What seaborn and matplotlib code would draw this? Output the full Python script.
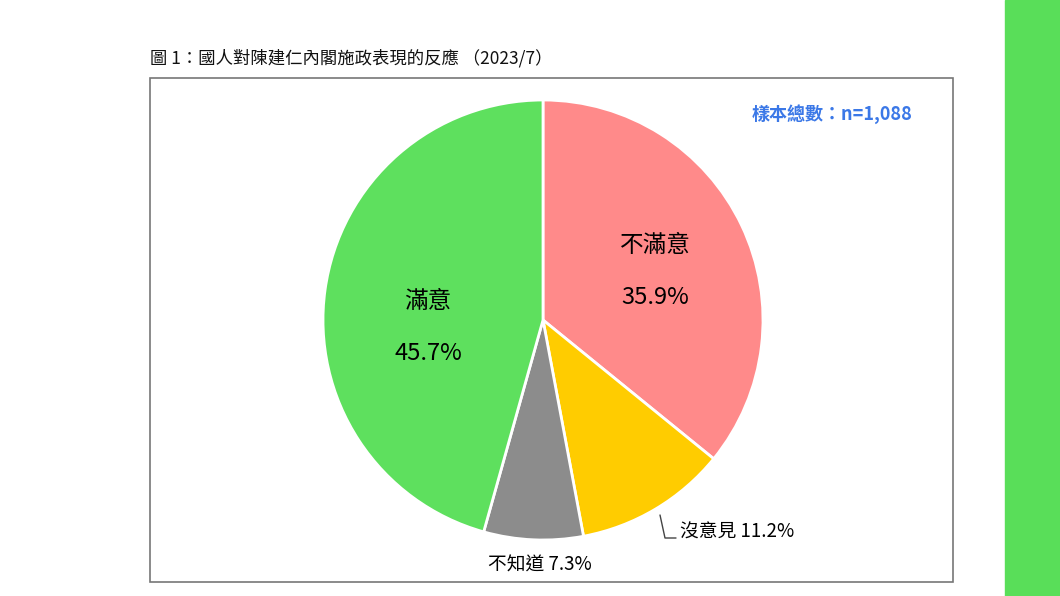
import matplotlib
matplotlib.use("Agg")
import matplotlib.pyplot as plt
import seaborn as sns
from matplotlib.patches import Rectangle

sns.set_theme(style="white")
plt.rcParams['font.family'] = ['Noto Sans CJK TC', 'DejaVu Sans']

# data
labels = ['不滿意', '沒意見', '不知道', '滿意']
values = [35.9, 11.2, 7.3, 45.7]
colors = ['#FF8A8A', '#FFCC00', '#8C8C8C', '#5EE05E']
title = '圖 1：國人對陳建仁內閣施政表現的反應 （2023/7）'
sample = '樣本總數：n=1,088'

W, H = 1060, 596
fig = plt.figure(figsize=(W / 100, H / 100), dpi=100)

def fx(x):
    return x / W

def fy(y):
    return 1 - y / H

# frame and side bar
fig.patches.append(Rectangle((fx(150), fy(582)), fx(803), 504 / H, transform=fig.transFigure,
                             fill=False, edgecolor='#777777', linewidth=1.2))
fig.patches.append(Rectangle((fx(1005), 0), fx(55), 1, transform=fig.transFigure,
                             color='#59DE59'))
fig.text(fx(150), fy(58), title, fontsize=12.5, va='center', ha='left', color='#111111')
fig.text(fx(913), fy(114), sample, fontsize=13, va='center', ha='right', color='#3B78E7',
         fontweight='bold')

# pie: center (543,320), radius 220 px
r = 220
ax = fig.add_axes([fx(543 - r), fy(320 + r), 2 * r / W, 2 * r / H])
ax.pie(values, colors=colors, startangle=90, counterclock=False,
       wedgeprops=dict(edgecolor='white', linewidth=2))
ax.set_xlim(-1, 1)
ax.set_ylim(-1, 1)
ax.set_aspect('equal')
ax.axis('off')

# labels
kw = dict(ha='center', va='center', color='black')
fig.text(fx(655), fy(245), labels[0], fontsize=17, **kw)
fig.text(fx(655), fy(297), f'{values[0]}%', fontsize=17, **kw)
fig.text(fx(428), fy(302), labels[3], fontsize=17, **kw)
fig.text(fx(428), fy(354), f'{values[3]}%', fontsize=17, **kw)
fig.text(fx(680), fy(532), f'{labels[1]} {values[1]}%', fontsize=13.5, ha='left', va='center',
         color='black')
fig.text(fx(540), fy(565), f'{labels[2]} {values[2]}%', fontsize=13.5, **kw)
fig.lines.append(plt.Line2D([fx(660), fx(665), fx(676)], [fy(515), fy(538), fy(538)],
                            transform=fig.transFigure, color='#444444', linewidth=1))

fig.savefig('out.png', dpi=100)
